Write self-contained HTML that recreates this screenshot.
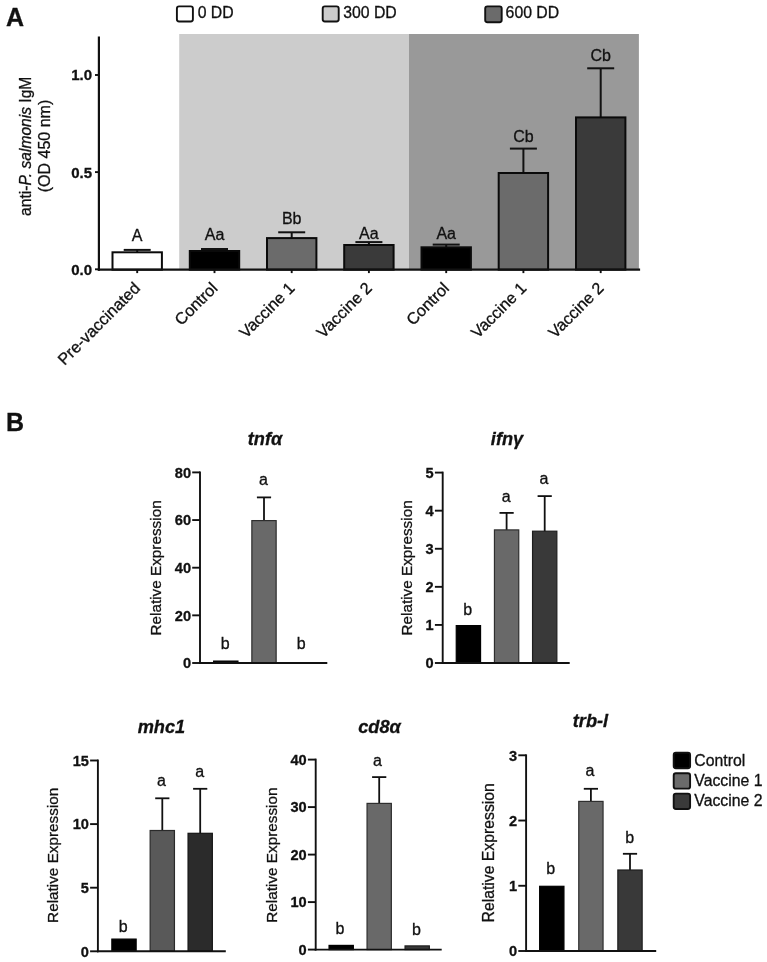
<!DOCTYPE html>
<html lang="en">
<head>
<meta charset="utf-8">
<title>Figure: anti-P. salmonis IgM and relative gene expression</title>
<style>
html,body{margin:0;padding:0;background:#fff;}
body{width:767px;height:962px;overflow:hidden;}
svg{display:block;will-change:transform;}
svg text{font-family:"Liberation Sans", Arial, Helvetica, sans-serif;fill:#111;stroke:#111;stroke-width:0.3px;}
</style>
</head>
<body>
<svg width="767" height="962" viewBox="0 0 767 962">
<rect width="767" height="962" fill="#ffffff"/>
<g id="panelA">
<text x="5.9" y="26.3" font-size="25" text-anchor="start" font-weight="bold">A</text>
<rect x="179.2" y="34" width="229.8" height="235" fill="#cccccc"/>
<rect x="409" y="34" width="229.9" height="235" fill="#999999"/>
<rect x="176.9" y="6.4" width="16" height="15.1" fill="#ffffff" stroke="#111" stroke-width="1.9" rx="2.2"/>
<text x="197.7" y="18.1" font-size="15.8" text-anchor="start">0 DD</text>
<rect x="322.7" y="6.4" width="16" height="15.1" fill="#cccccc" stroke="#111" stroke-width="1.9" rx="2.2"/>
<text x="343.2" y="18.1" font-size="15.8" text-anchor="start">300 DD</text>
<rect x="485.2" y="6.4" width="16.5" height="15.8" fill="#6b6b6b" stroke="#111" stroke-width="1.9" rx="2.2"/>
<text x="505.6" y="18.3" font-size="15.8" text-anchor="start">600 DD</text>
<line x1="137.2" y1="249.9" x2="137.2" y2="252.3" stroke="#111" stroke-width="2.0" stroke-linecap="butt"/>
<line x1="123.7" y1="249.9" x2="150.7" y2="249.9" stroke="#111" stroke-width="2.0" stroke-linecap="butt"/>
<rect x="112.5" y="252.3" width="49.4" height="17.4" fill="#ffffff" stroke="#0a0a0a" stroke-width="2.0"/>
<line x1="214.5" y1="249" x2="214.5" y2="251" stroke="#111" stroke-width="2.0" stroke-linecap="butt"/>
<line x1="201" y1="249" x2="228" y2="249" stroke="#111" stroke-width="2.0" stroke-linecap="butt"/>
<rect x="189.8" y="251" width="49.4" height="18.7" fill="#000000" stroke="#0a0a0a" stroke-width="2.0"/>
<line x1="291.7" y1="232.3" x2="291.7" y2="238.1" stroke="#111" stroke-width="2.0" stroke-linecap="butt"/>
<line x1="278.2" y1="232.3" x2="305.2" y2="232.3" stroke="#111" stroke-width="2.0" stroke-linecap="butt"/>
<rect x="267" y="238.1" width="49.4" height="31.6" fill="#6b6b6b" stroke="#0a0a0a" stroke-width="2.0"/>
<line x1="368.9" y1="242.1" x2="368.9" y2="245" stroke="#111" stroke-width="2.0" stroke-linecap="butt"/>
<line x1="355.4" y1="242.1" x2="382.4" y2="242.1" stroke="#111" stroke-width="2.0" stroke-linecap="butt"/>
<rect x="344.2" y="245" width="49.4" height="24.7" fill="#3a3a3a" stroke="#0a0a0a" stroke-width="2.0"/>
<line x1="446.2" y1="244.6" x2="446.2" y2="247.3" stroke="#111" stroke-width="2.0" stroke-linecap="butt"/>
<line x1="432.7" y1="244.6" x2="459.7" y2="244.6" stroke="#111" stroke-width="2.0" stroke-linecap="butt"/>
<rect x="421.5" y="247.3" width="49.4" height="22.4" fill="#000000" stroke="#0a0a0a" stroke-width="2.0"/>
<line x1="523.4" y1="148.6" x2="523.4" y2="173" stroke="#111" stroke-width="2.0" stroke-linecap="butt"/>
<line x1="509.9" y1="148.6" x2="536.9" y2="148.6" stroke="#111" stroke-width="2.0" stroke-linecap="butt"/>
<rect x="498.7" y="173" width="49.4" height="96.7" fill="#6b6b6b" stroke="#0a0a0a" stroke-width="2.0"/>
<line x1="600.7" y1="68.3" x2="600.7" y2="117.4" stroke="#111" stroke-width="2.0" stroke-linecap="butt"/>
<line x1="587.2" y1="68.3" x2="614.2" y2="68.3" stroke="#111" stroke-width="2.0" stroke-linecap="butt"/>
<rect x="576" y="117.4" width="49.4" height="152.3" fill="#3a3a3a" stroke="#0a0a0a" stroke-width="2.0"/>
<text x="137.2" y="241" font-size="16" text-anchor="middle">A</text>
<text x="214.5" y="240" font-size="16" text-anchor="middle">Aa</text>
<text x="291.7" y="223.6" font-size="16" text-anchor="middle">Bb</text>
<text x="368.9" y="238.8" font-size="16" text-anchor="middle">Aa</text>
<text x="446.2" y="239.2" font-size="16" text-anchor="middle">Aa</text>
<text x="523.4" y="141.9" font-size="16" text-anchor="middle">Cb</text>
<text x="600.7" y="60.5" font-size="16" text-anchor="middle">Cb</text>
<line x1="98.9" y1="36.5" x2="98.9" y2="270.8" stroke="#111" stroke-width="2.2" stroke-linecap="butt"/>
<line x1="97.8" y1="269.7" x2="640.1" y2="269.7" stroke="#111" stroke-width="2.2" stroke-linecap="butt"/>
<line x1="95" y1="75" x2="98.9" y2="75" stroke="#111" stroke-width="1.9" stroke-linecap="butt"/>
<text x="92" y="80.4" font-size="15" text-anchor="end" font-weight="bold">1.0</text>
<line x1="95" y1="172.1" x2="98.9" y2="172.1" stroke="#111" stroke-width="1.9" stroke-linecap="butt"/>
<text x="92" y="177.5" font-size="15" text-anchor="end" font-weight="bold">0.5</text>
<line x1="95" y1="269.3" x2="98.9" y2="269.3" stroke="#111" stroke-width="1.9" stroke-linecap="butt"/>
<text x="92" y="274.7" font-size="15" text-anchor="end" font-weight="bold">0.0</text>
<line x1="137.2" y1="269.7" x2="137.2" y2="273.1" stroke="#111" stroke-width="1.9" stroke-linecap="butt"/>
<line x1="214.5" y1="269.7" x2="214.5" y2="273.1" stroke="#111" stroke-width="1.9" stroke-linecap="butt"/>
<line x1="291.7" y1="269.7" x2="291.7" y2="273.1" stroke="#111" stroke-width="1.9" stroke-linecap="butt"/>
<line x1="368.9" y1="269.7" x2="368.9" y2="273.1" stroke="#111" stroke-width="1.9" stroke-linecap="butt"/>
<line x1="446.2" y1="269.7" x2="446.2" y2="273.1" stroke="#111" stroke-width="1.9" stroke-linecap="butt"/>
<line x1="523.4" y1="269.7" x2="523.4" y2="273.1" stroke="#111" stroke-width="1.9" stroke-linecap="butt"/>
<line x1="600.7" y1="269.7" x2="600.7" y2="273.1" stroke="#111" stroke-width="1.9" stroke-linecap="butt"/>
<text x="141.2" y="289.2" font-size="16.3" text-anchor="end" transform="rotate(-45 141.2 289.2)">Pre-vaccinated</text>
<text x="218.5" y="289.2" font-size="16.3" text-anchor="end" transform="rotate(-45 218.5 289.2)">Control</text>
<text x="295.7" y="289.2" font-size="16.3" text-anchor="end" transform="rotate(-45 295.7 289.2)">Vaccine 1</text>
<text x="372.9" y="289.2" font-size="16.3" text-anchor="end" transform="rotate(-45 372.9 289.2)">Vaccine 2</text>
<text x="450.2" y="289.2" font-size="16.3" text-anchor="end" transform="rotate(-45 450.2 289.2)">Control</text>
<text x="527.4" y="289.2" font-size="16.3" text-anchor="end" transform="rotate(-45 527.4 289.2)">Vaccine 1</text>
<text x="604.7" y="289.2" font-size="16.3" text-anchor="end" transform="rotate(-45 604.7 289.2)">Vaccine 2</text>
<text x="30.6" y="146.3" font-size="15.6" text-anchor="middle" transform="rotate(-90 30.6 146.3)">anti-<tspan font-style="italic">P. salmonis</tspan> IgM</text>
<text x="50.1" y="146" font-size="16" text-anchor="middle" transform="rotate(-90 50.1 146)">(OD 450 nm)</text>
</g>
<g id="panelB">
<text x="6" y="431.4" font-size="25" text-anchor="start" font-weight="bold">B</text>
<g id="tnfa">
<text x="265" y="444.9" font-size="18.2" text-anchor="middle" font-weight="bold" font-style="italic">tnf&#945;</text>
<rect x="213.65" y="661.1" width="24.3" height="1.9" fill="#000000" stroke="#000" stroke-width="1.2"/>
<line x1="264" y1="497.4" x2="264" y2="521" stroke="#111" stroke-width="1.8" stroke-linecap="butt"/>
<line x1="256.9" y1="497.4" x2="271.1" y2="497.4" stroke="#111" stroke-width="1.8" stroke-linecap="butt"/>
<rect x="251.85" y="520.6" width="24.3" height="142.4" fill="#696969" stroke="#2e2e2e" stroke-width="1.2"/>
<rect x="289.05" y="662.3" width="25.5" height="0.7" fill="#1e1e1e"/>
<text x="225.1" y="649.1" font-size="16" text-anchor="middle">b</text>
<text x="263.4" y="485.1" font-size="16" text-anchor="middle">a</text>
<text x="301.3" y="649.1" font-size="16" text-anchor="middle">b</text>
<line x1="200" y1="471.45" x2="200" y2="663.95" stroke="#111" stroke-width="1.9" stroke-linecap="butt"/>
<line x1="199.05" y1="663" x2="327.3" y2="663" stroke="#111" stroke-width="1.9" stroke-linecap="butt"/>
<line x1="192.2" y1="663" x2="200" y2="663" stroke="#111" stroke-width="1.9" stroke-linecap="butt"/>
<text x="191" y="668.2" font-size="14.6" text-anchor="end" font-weight="bold">0</text>
<line x1="192.2" y1="615.35" x2="200" y2="615.35" stroke="#111" stroke-width="1.9" stroke-linecap="butt"/>
<text x="191" y="620.55" font-size="14.6" text-anchor="end" font-weight="bold">20</text>
<line x1="192.2" y1="567.7" x2="200" y2="567.7" stroke="#111" stroke-width="1.9" stroke-linecap="butt"/>
<text x="191" y="572.9" font-size="14.6" text-anchor="end" font-weight="bold">40</text>
<line x1="192.2" y1="520.05" x2="200" y2="520.05" stroke="#111" stroke-width="1.9" stroke-linecap="butt"/>
<text x="191" y="525.25" font-size="14.6" text-anchor="end" font-weight="bold">60</text>
<line x1="192.2" y1="472.4" x2="200" y2="472.4" stroke="#111" stroke-width="1.9" stroke-linecap="butt"/>
<text x="191" y="477.6" font-size="14.6" text-anchor="end" font-weight="bold">80</text>
<text x="161.4" y="567.9" font-size="15.3" text-anchor="middle" transform="rotate(-90 161.4 567.9)">Relative Expression</text>
</g>
<g id="ifng">
<text x="507" y="444.9" font-size="18.2" text-anchor="middle" font-weight="bold" font-style="italic">ifn&#947;</text>
<rect x="456.25" y="625.6" width="24.3" height="37.4" fill="#000000" stroke="#000" stroke-width="1.2"/>
<line x1="506.6" y1="512.9" x2="506.6" y2="530.3" stroke="#111" stroke-width="1.8" stroke-linecap="butt"/>
<line x1="499.5" y1="512.9" x2="513.7" y2="512.9" stroke="#111" stroke-width="1.8" stroke-linecap="butt"/>
<rect x="494.45" y="529.9" width="24.3" height="133.1" fill="#696969" stroke="#2e2e2e" stroke-width="1.2"/>
<line x1="544.7" y1="496.1" x2="544.7" y2="531.6" stroke="#111" stroke-width="1.8" stroke-linecap="butt"/>
<line x1="537.6" y1="496.1" x2="551.8" y2="496.1" stroke="#111" stroke-width="1.8" stroke-linecap="butt"/>
<rect x="532.55" y="531.2" width="24.3" height="131.8" fill="#393939" stroke="#1e1e1e" stroke-width="1.2"/>
<text x="467.8" y="614.5" font-size="16" text-anchor="middle">b</text>
<text x="506.1" y="501.5" font-size="16" text-anchor="middle">a</text>
<text x="544" y="484.2" font-size="16" text-anchor="middle">a</text>
<line x1="442.7" y1="471.65" x2="442.7" y2="663.95" stroke="#111" stroke-width="1.9" stroke-linecap="butt"/>
<line x1="441.75" y1="663" x2="569.7" y2="663" stroke="#111" stroke-width="1.9" stroke-linecap="butt"/>
<line x1="434.9" y1="663" x2="442.7" y2="663" stroke="#111" stroke-width="1.9" stroke-linecap="butt"/>
<text x="433.7" y="668.2" font-size="14.6" text-anchor="end" font-weight="bold">0</text>
<line x1="434.9" y1="624.92" x2="442.7" y2="624.92" stroke="#111" stroke-width="1.9" stroke-linecap="butt"/>
<text x="433.7" y="630.12" font-size="14.6" text-anchor="end" font-weight="bold">1</text>
<line x1="434.9" y1="586.84" x2="442.7" y2="586.84" stroke="#111" stroke-width="1.9" stroke-linecap="butt"/>
<text x="433.7" y="592.04" font-size="14.6" text-anchor="end" font-weight="bold">2</text>
<line x1="434.9" y1="548.76" x2="442.7" y2="548.76" stroke="#111" stroke-width="1.9" stroke-linecap="butt"/>
<text x="433.7" y="553.96" font-size="14.6" text-anchor="end" font-weight="bold">3</text>
<line x1="434.9" y1="510.68" x2="442.7" y2="510.68" stroke="#111" stroke-width="1.9" stroke-linecap="butt"/>
<text x="433.7" y="515.88" font-size="14.6" text-anchor="end" font-weight="bold">4</text>
<line x1="434.9" y1="472.6" x2="442.7" y2="472.6" stroke="#111" stroke-width="1.9" stroke-linecap="butt"/>
<text x="433.7" y="477.8" font-size="14.6" text-anchor="end" font-weight="bold">5</text>
<text x="411.9" y="567.9" font-size="15.3" text-anchor="middle" transform="rotate(-90 411.9 567.9)">Relative Expression</text>
</g>
<g id="mhc1">
<text x="161.4" y="733.3" font-size="18.2" text-anchor="middle" font-weight="bold" font-style="italic">mhc1</text>
<rect x="111.85" y="939.1" width="24.3" height="12.2" fill="#000000" stroke="#000" stroke-width="1.2"/>
<line x1="162.3" y1="798.3" x2="162.3" y2="830.9" stroke="#111" stroke-width="1.8" stroke-linecap="butt"/>
<line x1="155.2" y1="798.3" x2="169.4" y2="798.3" stroke="#111" stroke-width="1.8" stroke-linecap="butt"/>
<rect x="150.15" y="830.5" width="24.3" height="120.8" fill="#595959" stroke="#2a2a2a" stroke-width="1.2"/>
<line x1="200.2" y1="788.8" x2="200.2" y2="833.7" stroke="#111" stroke-width="1.8" stroke-linecap="butt"/>
<line x1="193.1" y1="788.8" x2="207.3" y2="788.8" stroke="#111" stroke-width="1.8" stroke-linecap="butt"/>
<rect x="188.05" y="833.3" width="24.3" height="118" fill="#2b2b2b" stroke="#151515" stroke-width="1.2"/>
<text x="123.2" y="931.9" font-size="16" text-anchor="middle">b</text>
<text x="161.5" y="786" font-size="16" text-anchor="middle">a</text>
<text x="199.7" y="777" font-size="16" text-anchor="middle">a</text>
<line x1="97.9" y1="759.55" x2="97.9" y2="952.25" stroke="#111" stroke-width="1.9" stroke-linecap="butt"/>
<line x1="96.95" y1="951.3" x2="225.8" y2="951.3" stroke="#111" stroke-width="1.9" stroke-linecap="butt"/>
<line x1="90.1" y1="951.3" x2="97.9" y2="951.3" stroke="#111" stroke-width="1.9" stroke-linecap="butt"/>
<text x="88.9" y="956.5" font-size="14.6" text-anchor="end" font-weight="bold">0</text>
<line x1="90.1" y1="887.7" x2="97.9" y2="887.7" stroke="#111" stroke-width="1.9" stroke-linecap="butt"/>
<text x="88.9" y="892.9" font-size="14.6" text-anchor="end" font-weight="bold">5</text>
<line x1="90.1" y1="824.1" x2="97.9" y2="824.1" stroke="#111" stroke-width="1.9" stroke-linecap="butt"/>
<text x="88.9" y="829.3" font-size="14.6" text-anchor="end" font-weight="bold">10</text>
<line x1="90.1" y1="760.5" x2="97.9" y2="760.5" stroke="#111" stroke-width="1.9" stroke-linecap="butt"/>
<text x="88.9" y="765.7" font-size="14.6" text-anchor="end" font-weight="bold">15</text>
<text x="58.1" y="855.3" font-size="15.3" text-anchor="middle" transform="rotate(-90 58.1 855.3)">Relative Expression</text>
</g>
<g id="cd8a">
<text x="379.5" y="733.3" font-size="18.2" text-anchor="middle" font-weight="bold" font-style="italic">cd8&#945;</text>
<rect x="329.05" y="945.4" width="24.3" height="4.2" fill="#000000" stroke="#000" stroke-width="1.2"/>
<line x1="379.2" y1="777.1" x2="379.2" y2="803.8" stroke="#111" stroke-width="1.8" stroke-linecap="butt"/>
<line x1="372.1" y1="777.1" x2="386.3" y2="777.1" stroke="#111" stroke-width="1.8" stroke-linecap="butt"/>
<rect x="367.05" y="803.4" width="24.3" height="146.2" fill="#696969" stroke="#2e2e2e" stroke-width="1.2"/>
<rect x="405.05" y="945.9" width="24.3" height="3.7" fill="#393939" stroke="#1e1e1e" stroke-width="1.2"/>
<text x="340" y="933.9" font-size="16" text-anchor="middle">b</text>
<text x="377.5" y="765.5" font-size="16" text-anchor="middle">a</text>
<text x="416.4" y="935.2" font-size="16" text-anchor="middle">b</text>
<line x1="315.7" y1="758.65" x2="315.7" y2="950.55" stroke="#111" stroke-width="1.9" stroke-linecap="butt"/>
<line x1="314.75" y1="949.6" x2="441.7" y2="949.6" stroke="#111" stroke-width="1.9" stroke-linecap="butt"/>
<line x1="307.9" y1="949.6" x2="315.7" y2="949.6" stroke="#111" stroke-width="1.9" stroke-linecap="butt"/>
<text x="306.7" y="954.8" font-size="14.6" text-anchor="end" font-weight="bold">0</text>
<line x1="307.9" y1="902.1" x2="315.7" y2="902.1" stroke="#111" stroke-width="1.9" stroke-linecap="butt"/>
<text x="306.7" y="907.3" font-size="14.6" text-anchor="end" font-weight="bold">10</text>
<line x1="307.9" y1="854.6" x2="315.7" y2="854.6" stroke="#111" stroke-width="1.9" stroke-linecap="butt"/>
<text x="306.7" y="859.8" font-size="14.6" text-anchor="end" font-weight="bold">20</text>
<line x1="307.9" y1="807.1" x2="315.7" y2="807.1" stroke="#111" stroke-width="1.9" stroke-linecap="butt"/>
<text x="306.7" y="812.3" font-size="14.6" text-anchor="end" font-weight="bold">30</text>
<line x1="307.9" y1="759.6" x2="315.7" y2="759.6" stroke="#111" stroke-width="1.9" stroke-linecap="butt"/>
<text x="306.7" y="764.8" font-size="14.6" text-anchor="end" font-weight="bold">40</text>
<text x="276.8" y="855.1" font-size="15.3" text-anchor="middle" transform="rotate(-90 276.8 855.1)">Relative Expression</text>
</g>
<g id="trbl">
<text x="590.5" y="727.3" font-size="18.2" text-anchor="middle" font-weight="bold" font-style="italic">trb-l</text>
<rect x="539.65" y="886.3" width="24.3" height="64.7" fill="#000000" stroke="#000" stroke-width="1.2"/>
<line x1="590.9" y1="788.8" x2="590.9" y2="801.8" stroke="#111" stroke-width="1.8" stroke-linecap="butt"/>
<line x1="583.8" y1="788.8" x2="598" y2="788.8" stroke="#111" stroke-width="1.8" stroke-linecap="butt"/>
<rect x="578.75" y="801.4" width="24.3" height="149.6" fill="#696969" stroke="#2e2e2e" stroke-width="1.2"/>
<line x1="630" y1="853.8" x2="630" y2="870.4" stroke="#111" stroke-width="1.8" stroke-linecap="butt"/>
<line x1="622.9" y1="853.8" x2="637.1" y2="853.8" stroke="#111" stroke-width="1.8" stroke-linecap="butt"/>
<rect x="617.85" y="870" width="24.3" height="81" fill="#393939" stroke="#1e1e1e" stroke-width="1.2"/>
<text x="550.8" y="874.2" font-size="16" text-anchor="middle">b</text>
<text x="590" y="776.4" font-size="16" text-anchor="middle">a</text>
<text x="629.6" y="843" font-size="16" text-anchor="middle">b</text>
<line x1="526.1" y1="754.35" x2="526.1" y2="951.95" stroke="#111" stroke-width="1.9" stroke-linecap="butt"/>
<line x1="525.15" y1="951" x2="656.2" y2="951" stroke="#111" stroke-width="1.9" stroke-linecap="butt"/>
<line x1="518.3" y1="951" x2="526.1" y2="951" stroke="#111" stroke-width="1.9" stroke-linecap="butt"/>
<text x="517.1" y="956.2" font-size="14.6" text-anchor="end" font-weight="bold">0</text>
<line x1="518.3" y1="885.77" x2="526.1" y2="885.77" stroke="#111" stroke-width="1.9" stroke-linecap="butt"/>
<text x="517.1" y="890.97" font-size="14.6" text-anchor="end" font-weight="bold">1</text>
<line x1="518.3" y1="820.53" x2="526.1" y2="820.53" stroke="#111" stroke-width="1.9" stroke-linecap="butt"/>
<text x="517.1" y="825.73" font-size="14.6" text-anchor="end" font-weight="bold">2</text>
<line x1="518.3" y1="755.3" x2="526.1" y2="755.3" stroke="#111" stroke-width="1.9" stroke-linecap="butt"/>
<text x="517.1" y="760.5" font-size="14.6" text-anchor="end" font-weight="bold">3</text>
<text x="494.1" y="852.8" font-size="15.75" text-anchor="middle" transform="rotate(-90 494.1 852.8)">Relative Expression</text>
</g>
<rect x="673.7" y="752.8" width="16.4" height="15.4" fill="#000000" stroke="#111" stroke-width="1.9" rx="2.2"/>
<text x="694.3" y="765.6" font-size="15.8" text-anchor="start">Control</text>
<rect x="673.7" y="773.2" width="16.4" height="15.4" fill="#6b6b6b" stroke="#111" stroke-width="1.9" rx="2.2"/>
<text x="694.3" y="785.8" font-size="15.8" text-anchor="start">Vaccine 1</text>
<rect x="673.7" y="793.6" width="16.4" height="15.4" fill="#3a3a3a" stroke="#111" stroke-width="1.9" rx="2.2"/>
<text x="694.3" y="806" font-size="15.8" text-anchor="start">Vaccine 2</text>
</g>
</svg>
</body>
</html>
